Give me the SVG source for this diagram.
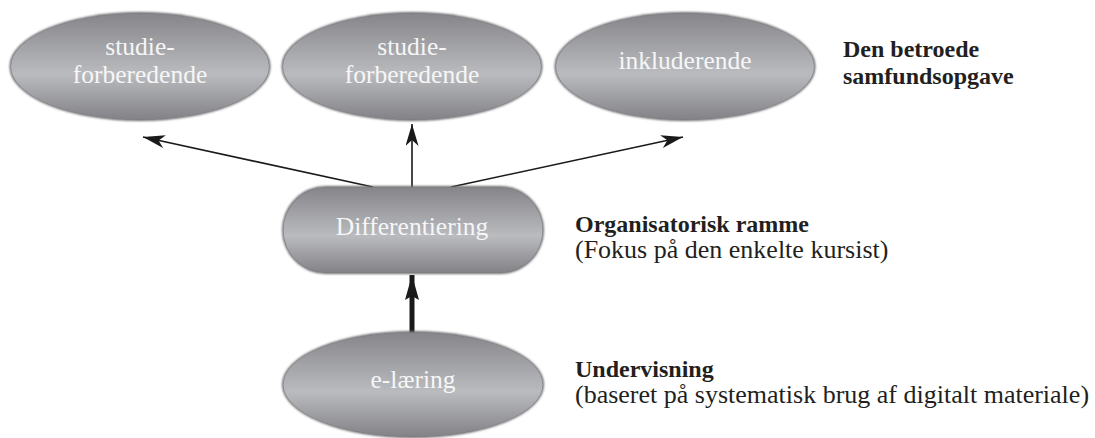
<svg xmlns="http://www.w3.org/2000/svg" width="1095" height="438" viewBox="0 0 1095 438">
<defs>
<linearGradient id="g" x1="0" y1="0" x2="0" y2="1">
<stop offset="0" stop-color="#86868a"/>
<stop offset="0.57" stop-color="#babbbf"/>
<stop offset="1" stop-color="#838387"/>
</linearGradient>
<filter id="soft" x="-5%" y="-5%" width="110%" height="110%">
<feGaussianBlur stdDeviation="1.2"/>
</filter>
<marker id="ah" viewBox="0 0 22 13" refX="22" refY="6.5" markerWidth="22" markerHeight="13" markerUnits="userSpaceOnUse" orient="auto">
<path d="M0,0 L22,6.5 L0,13 L6,6.5 Z" fill="#1a1a1a"/>
</marker>
<marker id="ahb" viewBox="0 0 25 14" refX="25" refY="7" markerWidth="25" markerHeight="14" markerUnits="userSpaceOnUse" orient="auto">
<path d="M0,0 L25,7 L0,14 L4,7 Z" fill="#1a1a1a"/>
</marker>
</defs>
<style>
.node{fill:url(#g);}
.edge{fill:#6e6e72;filter:url(#soft);}
.nt{font-family:"Liberation Serif",serif;font-size:25.5px;fill:#f6f6f6;text-anchor:middle;}
.lb{font-family:"Liberation Serif",serif;font-size:24px;font-weight:bold;fill:#231f20;}
.lr{font-family:"Liberation Serif",serif;font-size:26px;fill:#231f20;}
.con{stroke:#1a1a1a;stroke-width:1.6;fill:none;}
</style>
<rect width="1095" height="438" fill="#ffffff"/>
<g id="connectors">
<line class="con" x1="373" y1="187" x2="143" y2="137" marker-end="url(#ah)"/>
<line class="con" x1="412" y1="187" x2="412" y2="124" marker-end="url(#ah)"/>
<line class="con" x1="451" y1="187" x2="683" y2="137" marker-end="url(#ah)"/>
<line x1="412" y1="333" x2="412" y2="275" stroke="#1a1a1a" stroke-width="5" marker-end="url(#ahb)"/>
</g>
<g id="node-studie1">
<ellipse class="edge" cx="140" cy="66.5" rx="130.5" ry="54.5"/>
<ellipse class="node" cx="140" cy="66.5" rx="129" ry="53"/>
<text class="nt" x="140" y="55">studie-</text>
<text class="nt" x="140" y="83">forberedende</text>
</g>
<g id="node-studie2">
<ellipse class="edge" cx="412" cy="66.5" rx="130.5" ry="54.5"/>
<ellipse class="node" cx="412" cy="66.5" rx="129" ry="53"/>
<text class="nt" x="412" y="55">studie-</text>
<text class="nt" x="412" y="83">forberedende</text>
</g>
<g id="node-inkluderende">
<ellipse class="edge" cx="685" cy="66.5" rx="130.5" ry="54.5"/>
<ellipse class="node" cx="685" cy="66.5" rx="129" ry="53"/>
<text class="nt" x="685" y="69">inkluderende</text>
</g>
<g id="label-samfund">
<text class="lb" x="843" y="57">Den betroede</text>
<text class="lb" x="843" y="84">samfundsopgave</text>
</g>
<g id="node-differentiering">
<rect class="edge" x="282" y="186" width="262" height="88" rx="44"/>
<rect class="node" x="283.5" y="187.5" width="259" height="85" rx="42.5"/>
<text class="nt" x="412" y="235">Differentiering</text>
</g>
<g id="label-organisatorisk">
<text class="lb" x="575" y="232">Organisatorisk ramme</text>
<text class="lr" x="575" y="258">(Fokus på den enkelte kursist)</text>
</g>
<g id="node-elaering">
<ellipse class="edge" cx="413" cy="384.5" rx="131" ry="53.5"/>
<ellipse class="node" cx="413" cy="384.5" rx="129.5" ry="52"/>
<text class="nt" x="413" y="388">e-læring</text>
</g>
<g id="label-undervisning">
<text class="lb" x="575" y="377">Undervisning</text>
<text class="lr" x="575" y="403">(baseret på systematisk brug af digitalt materiale)</text>
</g>
</svg>
